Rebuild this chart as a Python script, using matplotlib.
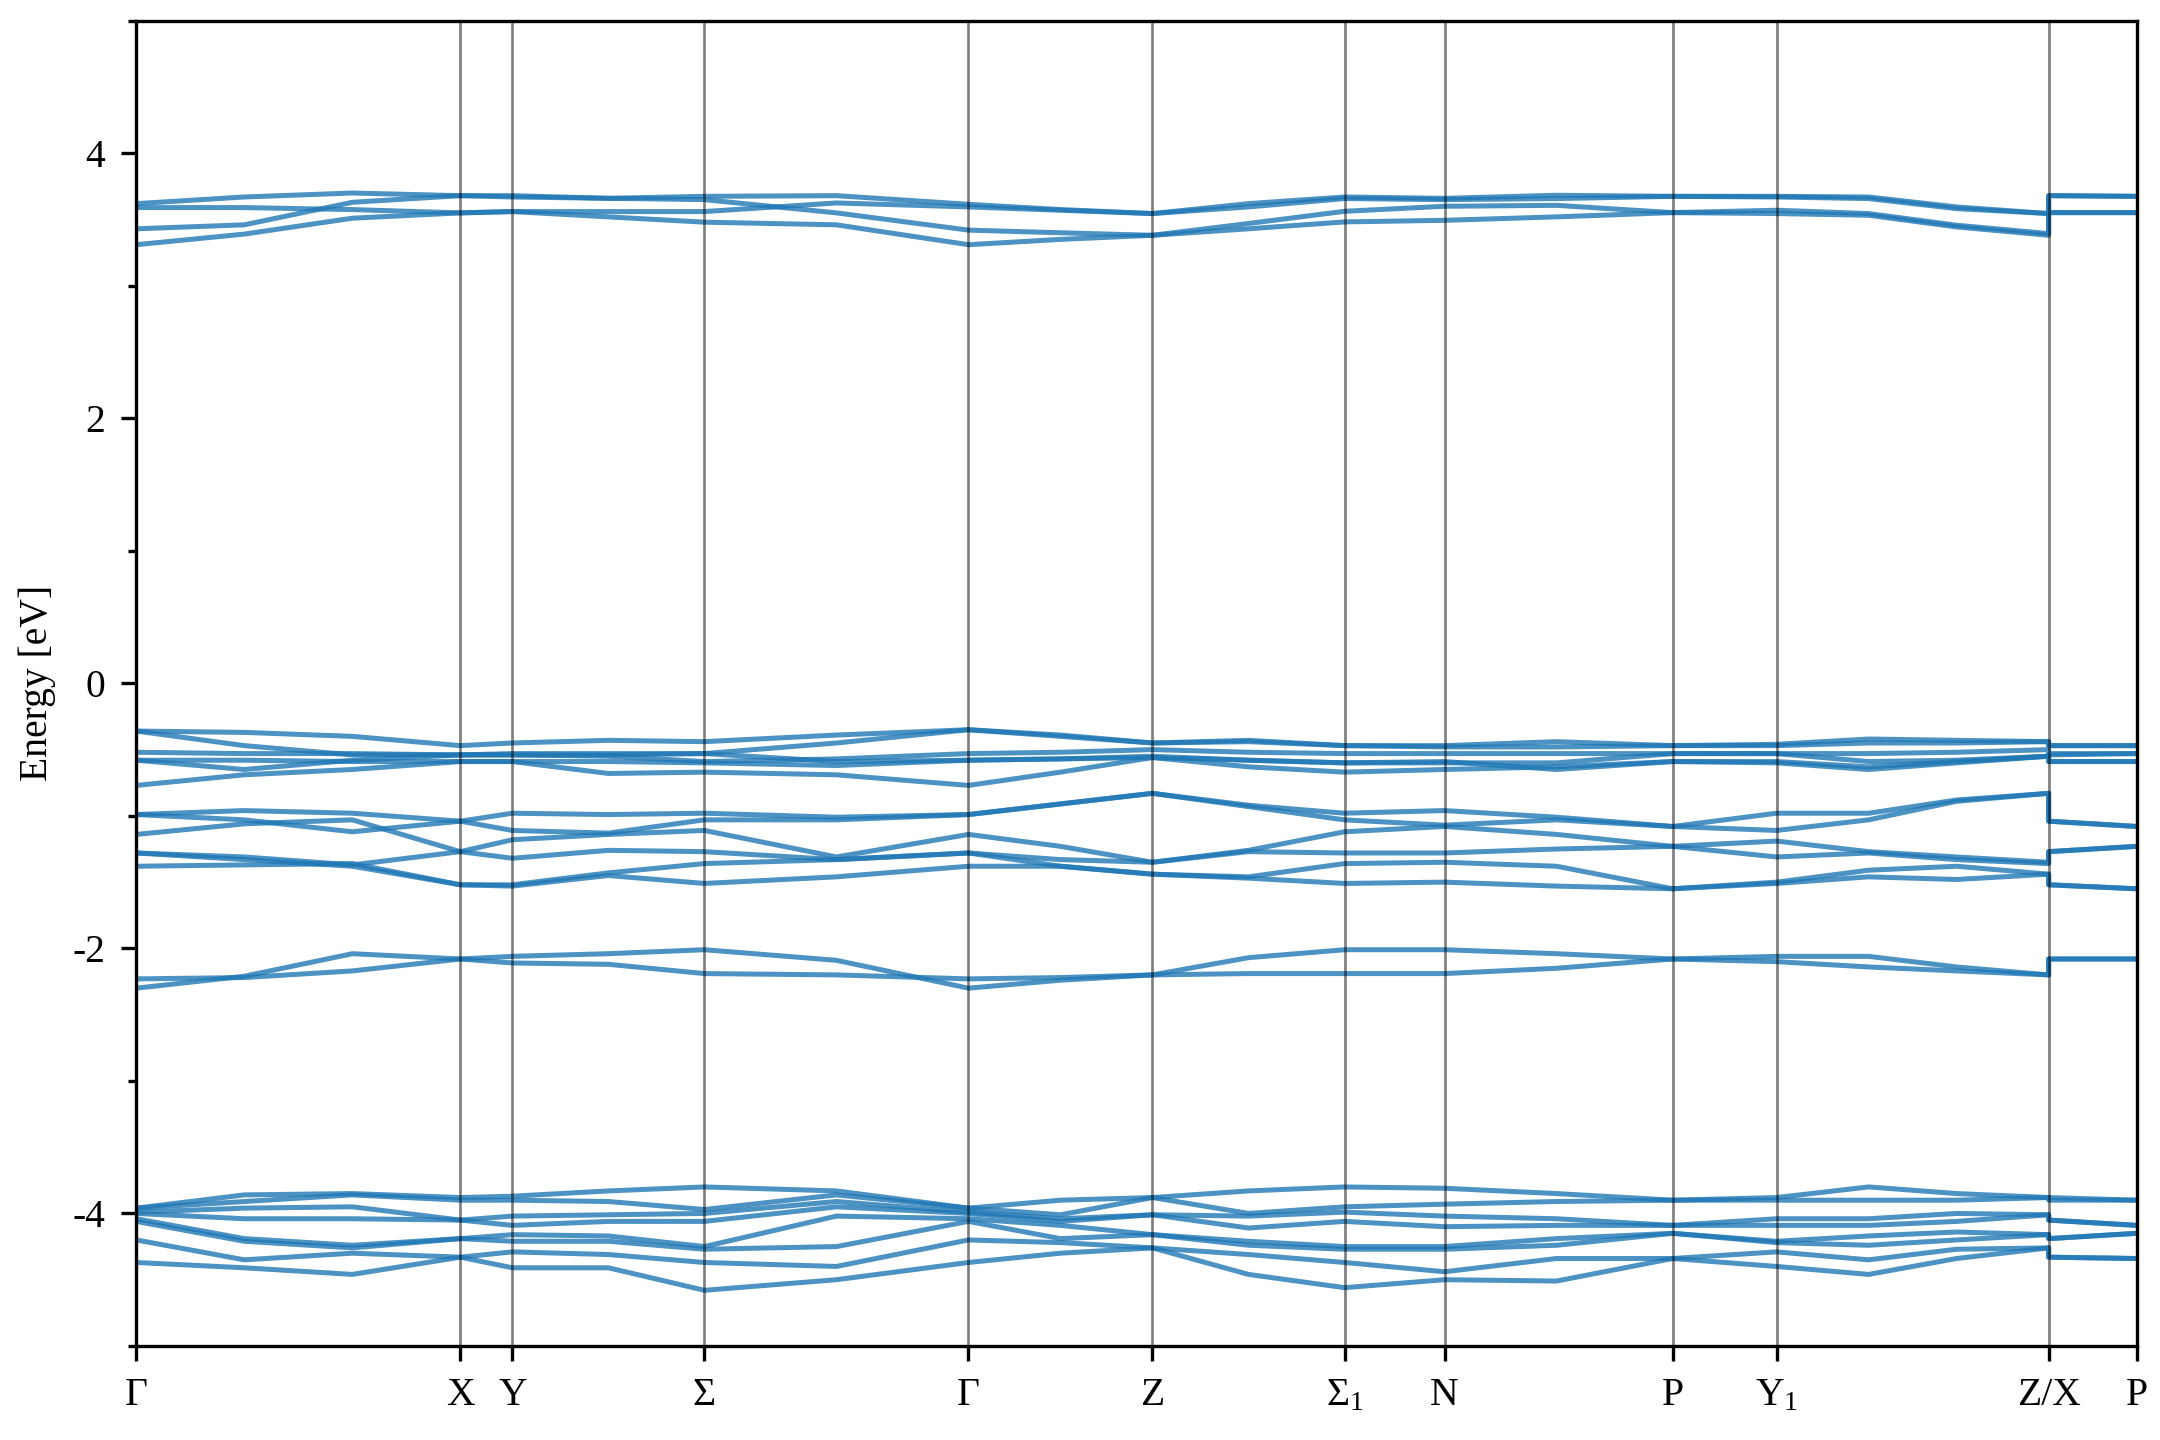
import numpy as np
import matplotlib
matplotlib.use("Agg")
import matplotlib.pyplot as plt
from matplotlib.ticker import MultipleLocator

# k-path distances of the sampled points (the Z/X break appears twice)
k = [0.0, 0.27, 0.54, 0.81, 0.94, 1.18, 1.42, 1.75, 2.08, 2.31, 2.54, 2.78,
     3.02, 3.27, 3.55, 3.84, 4.10, 4.33, 4.55, 4.78, 4.78, 5.0]

# high-symmetry points
hsp_k = [0.0, 0.81, 0.94, 1.42, 2.08, 2.54, 3.02, 3.27, 3.84, 4.10, 4.78, 5.0]
hsp_labels = ["Γ", "X", "Y", "Σ", "Γ", "Z", "Σ$_1$", "N", "P", "Y$_1$", "Z/X", "P"]

# conduction bands (~3.5 eV)
cb = [
    [3.62, 3.67, 3.70, 3.68, 3.67, 3.66, 3.675, 3.68, 3.615, 3.575, 3.545, 3.62,
     3.67, 3.66, 3.683, 3.675, 3.675, 3.67, 3.595, 3.545, 3.68, 3.675],
    [3.59, 3.59, 3.575, 3.55, 3.56, 3.56, 3.56, 3.625, 3.595, 3.57, 3.545, 3.595,
     3.658, 3.65, 3.658, 3.675, 3.67, 3.658, 3.582, 3.545, 3.68, 3.675],
    [3.43, 3.46, 3.63, 3.68, 3.68, 3.66, 3.65, 3.55, 3.42, 3.40, 3.381, 3.47,
     3.562, 3.60, 3.607, 3.552, 3.57, 3.545, 3.457, 3.394, 3.552, 3.552],
    [3.31, 3.39, 3.51, 3.55, 3.56, 3.52, 3.48, 3.46, 3.31, 3.35, 3.381, 3.43,
     3.482, 3.494, 3.52, 3.552, 3.545, 3.532, 3.444, 3.381, 3.552, 3.552],
]

# upper valence bands (~-0.5 eV)
vb_top = [
    [-0.36, -0.37, -0.40, -0.47, -0.45, -0.43, -0.44, -0.39, -0.35, -0.39, -0.45,
     -0.43, -0.47, -0.47, -0.44, -0.47, -0.46, -0.42, -0.43, -0.44, -0.47, -0.47],
    [-0.36, -0.47, -0.54, -0.54, -0.53, -0.53, -0.53, -0.45, -0.35, -0.40, -0.45,
     -0.44, -0.47, -0.48, -0.48, -0.47, -0.47, -0.45, -0.45, -0.44, -0.47, -0.47],
    [-0.52, -0.53, -0.53, -0.54, -0.54, -0.55, -0.59, -0.57, -0.53, -0.52, -0.50,
     -0.52, -0.53, -0.53, -0.53, -0.53, -0.53, -0.53, -0.52, -0.50, -0.53, -0.53],
    [-0.58, -0.65, -0.58, -0.54, -0.54, -0.54, -0.53, -0.59, -0.58, -0.57, -0.55,
     -0.58, -0.60, -0.60, -0.60, -0.53, -0.53, -0.59, -0.58, -0.55, -0.54, -0.53],
    [-0.58, -0.58, -0.59, -0.59, -0.59, -0.59, -0.60, -0.62, -0.58, -0.57, -0.56,
     -0.63, -0.67, -0.65, -0.63, -0.59, -0.59, -0.63, -0.59, -0.55, -0.59, -0.59],
    [-0.77, -0.69, -0.65, -0.59, -0.59, -0.68, -0.67, -0.69, -0.77, -0.67, -0.56,
     -0.58, -0.60, -0.59, -0.65, -0.59, -0.60, -0.65, -0.60, -0.55, -0.59, -0.59],
]

# valence bands around -1.2 eV
vb_mid = [
    [-0.99, -0.96, -0.98, -1.04, -0.98, -0.99, -0.98, -1.01, -0.99, -0.91, -0.83,
     -0.92, -0.98, -0.96, -1.01, -1.08, -0.98, -0.98, -0.88, -0.83, -1.04, -1.08],
    [-0.99, -1.03, -1.12, -1.04, -1.11, -1.13, -1.03, -1.03, -0.99, -0.91, -0.83,
     -0.93, -1.03, -1.07, -1.03, -1.08, -1.11, -1.03, -0.89, -0.83, -1.04, -1.08],
    [-1.14, -1.06, -1.03, -1.27, -1.18, -1.14, -1.11, -1.31, -1.14, -1.23, -1.35,
     -1.26, -1.12, -1.08, -1.14, -1.23, -1.19, -1.27, -1.31, -1.35, -1.27, -1.23],
    [-1.28, -1.31, -1.37, -1.27, -1.32, -1.26, -1.27, -1.33, -1.28, -1.33, -1.35,
     -1.27, -1.28, -1.28, -1.25, -1.23, -1.31, -1.28, -1.33, -1.36, -1.27, -1.23],
    [-1.28, -1.33, -1.38, -1.52, -1.52, -1.43, -1.36, -1.33, -1.28, -1.38, -1.44,
     -1.46, -1.36, -1.35, -1.38, -1.55, -1.50, -1.41, -1.38, -1.44, -1.52, -1.55],
    [-1.38, -1.37, -1.36, -1.52, -1.53, -1.45, -1.51, -1.46, -1.38, -1.38, -1.44,
     -1.47, -1.51, -1.50, -1.53, -1.55, -1.51, -1.46, -1.48, -1.44, -1.52, -1.55],
]

# bands near -2.1 eV
vb_2 = [
    [-2.30, -2.21, -2.04, -2.08, -2.11, -2.12, -2.19, -2.20, -2.23, -2.22, -2.20,
     -2.19, -2.19, -2.19, -2.15, -2.08, -2.10, -2.14, -2.17, -2.20, -2.08, -2.08],
    [-2.23, -2.22, -2.17, -2.08, -2.06, -2.04, -2.01, -2.09, -2.30, -2.24, -2.20,
     -2.07, -2.01, -2.01, -2.04, -2.08, -2.06, -2.06, -2.14, -2.20, -2.08, -2.08],
]

# bands near -4 eV
vb_4 = [
    [-3.96, -3.86, -3.85, -3.88, -3.87, -3.83, -3.80, -3.83, -3.96, -3.90, -3.88,
     -3.83, -3.80, -3.81, -3.85, -3.90, -3.88, -3.80, -3.85, -3.88, -3.88, -3.90],
    [-3.96, -3.91, -3.86, -3.90, -3.90, -3.91, -3.97, -3.86, -3.96, -4.01, -3.88,
     -4.00, -3.95, -3.93, -3.91, -3.90, -3.90, -3.90, -3.90, -3.88, -3.90, -3.90],
    [-3.99, -3.96, -3.95, -4.05, -4.02, -4.01, -4.00, -3.91, -3.99, -4.04, -4.01,
     -4.02, -3.99, -4.02, -4.04, -4.09, -4.04, -4.04, -4.00, -4.01, -4.05, -4.09],
    [-4.00, -4.04, -4.04, -4.05, -4.09, -4.06, -4.06, -3.95, -4.00, -4.06, -4.01,
     -4.11, -4.06, -4.10, -4.09, -4.09, -4.09, -4.09, -4.06, -4.01, -4.05, -4.09],
    [-4.04, -4.19, -4.24, -4.19, -4.16, -4.17, -4.25, -4.02, -4.04, -4.09, -4.16,
     -4.21, -4.25, -4.25, -4.19, -4.15, -4.21, -4.17, -4.14, -4.16, -4.19, -4.15],
    [-4.06, -4.21, -4.26, -4.19, -4.21, -4.21, -4.27, -4.25, -4.06, -4.19, -4.16,
     -4.24, -4.27, -4.27, -4.24, -4.15, -4.22, -4.24, -4.20, -4.16, -4.19, -4.15],
    [-4.20, -4.35, -4.30, -4.33, -4.29, -4.31, -4.37, -4.40, -4.20, -4.22, -4.26,
     -4.31, -4.37, -4.44, -4.34, -4.34, -4.29, -4.35, -4.27, -4.26, -4.33, -4.34],
    [-4.37, -4.41, -4.46, -4.33, -4.41, -4.41, -4.58, -4.50, -4.37, -4.30, -4.26,
     -4.46, -4.56, -4.50, -4.51, -4.34, -4.40, -4.46, -4.34, -4.26, -4.33, -4.34],
]

plt.rcParams["font.family"] = ["Liberation Serif", "DejaVu Serif"]
plt.rcParams["mathtext.fontset"] = "custom"
plt.rcParams["mathtext.rm"] = "Liberation Serif"
plt.rcParams["mathtext.it"] = "Liberation Serif:italic"
plt.rcParams["axes.unicode_minus"] = False

fig = plt.figure(figsize=(7.2, 4.8), dpi=300)
ax = fig.add_axes([0.0631, 0.0653, 0.9261, 0.9203])

for band in cb + vb_top + vb_mid + vb_2 + vb_4:
    ax.plot(k, band, color="#1f77b4", alpha=0.8, lw=1.2,
            solid_joinstyle="round")

for x in hsp_k[1:-1]:
    ax.axvline(x, color="k", alpha=0.5, lw=0.65)

ax.set_xlim(hsp_k[0], hsp_k[-1])
ax.set_ylim(-5, 5)
ax.set_xticks(hsp_k)
ax.set_xticklabels(hsp_labels)
ax.yaxis.set_major_locator(MultipleLocator(2))
ax.yaxis.set_minor_locator(MultipleLocator(1))
ax.set_ylabel("Energy [eV]", fontsize=9.5)

ax.tick_params(axis="both", which="major", direction="out", length=3.5,
               width=0.8, labelsize=9.5, pad=4)
ax.tick_params(axis="y", which="minor", direction="out", length=2, width=0.8)
for s in ax.spines.values():
    s.set_linewidth(0.8)

fig.savefig("out.png", dpi=300)
